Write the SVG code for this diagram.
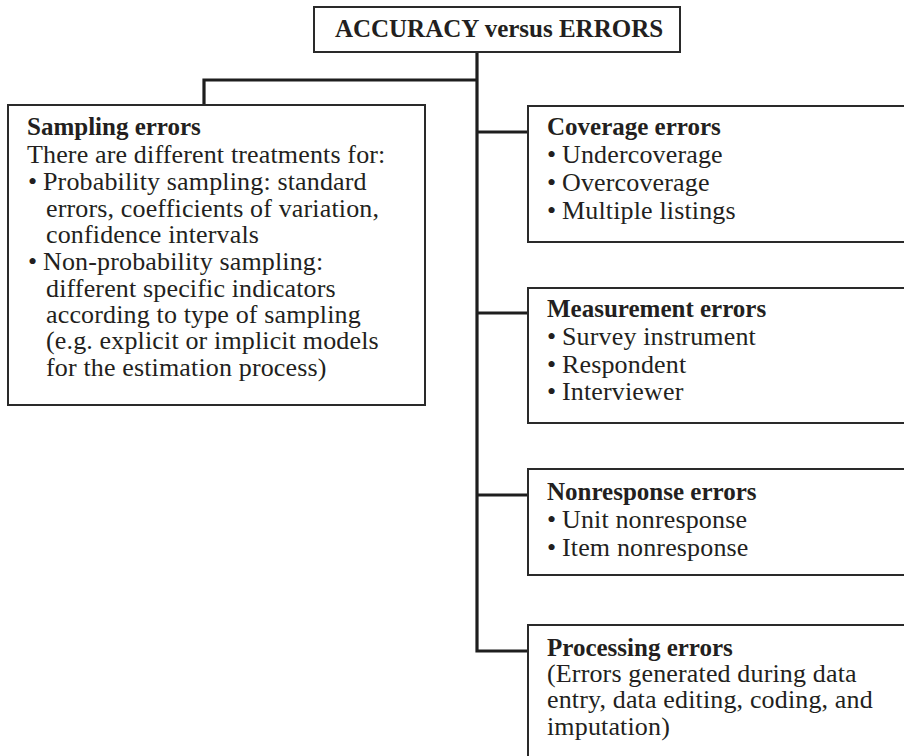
<svg xmlns="http://www.w3.org/2000/svg" width="904" height="756" viewBox="0 0 904 756">
<style>
.box{fill:#fff;stroke:#2a2a2a;stroke-width:2}
.conn{fill:none;stroke:#1e1e1e;stroke-width:3.2}
text{font-family:"Liberation Serif","Times New Roman",serif;font-size:26px;fill:#231f20;letter-spacing:0.15px}
.b{font-weight:bold;font-size:25px;letter-spacing:0}
</style>
<rect width="904" height="756" fill="#fff"/>
<g id="connectors">
<path class="conn" d="M477 52 V651 H528"/>
<path class="conn" d="M477 80 H204 V105"/>
<path class="conn" d="M477 132 H528"/>
<path class="conn" d="M477 313 H528"/>
<path class="conn" d="M477 495 H528"/>
</g>
<g id="title">
<rect class="box" x="314" y="7" width="366" height="45"/>
<text class="b" x="499" y="37" text-anchor="middle">ACCURACY versus ERRORS</text>
</g>
<g id="sampling">
<rect class="box" x="8" y="105" width="417" height="300"/>
<text class="b" x="27" y="135">Sampling errors</text>
<text x="27" y="163">There are different treatments for:</text>
<text y="190"><tspan x="28">•</tspan><tspan x="43">Probability sampling: standard</tspan></text>
<text x="46" y="217">errors, coefficients of variation,</text>
<text x="46" y="243">confidence intervals</text>
<text y="270"><tspan x="28">•</tspan><tspan x="43">Non-probability sampling:</tspan></text>
<text x="46" y="297">different specific indicators</text>
<text x="46" y="323">according to type of sampling</text>
<text x="46" y="349">(e.g. explicit or implicit models</text>
<text x="46" y="376">for the estimation process)</text>
</g>
<g id="coverage">
<rect class="box" x="528" y="106" width="400" height="136"/>
<text class="b" x="547" y="135">Coverage errors</text>
<text y="163"><tspan x="547">•</tspan><tspan x="562">Undercoverage</tspan></text>
<text y="191"><tspan x="547">•</tspan><tspan x="562">Overcoverage</tspan></text>
<text y="219"><tspan x="547">•</tspan><tspan x="562">Multiple listings</tspan></text>
</g>
<g id="measurement">
<rect class="box" x="528" y="288" width="400" height="135"/>
<text class="b" x="547" y="317">Measurement errors</text>
<text y="345"><tspan x="547">•</tspan><tspan x="562">Survey instrument</tspan></text>
<text y="373"><tspan x="547">•</tspan><tspan x="562">Respondent</tspan></text>
<text y="400"><tspan x="547">•</tspan><tspan x="562">Interviewer</tspan></text>
</g>
<g id="nonresponse">
<rect class="box" x="528" y="469" width="400" height="106"/>
<text class="b" x="547" y="500">Nonresponse errors</text>
<text y="528"><tspan x="547">•</tspan><tspan x="562">Unit nonresponse</tspan></text>
<text y="556"><tspan x="547">•</tspan><tspan x="562">Item nonresponse</tspan></text>
</g>
<g id="processing">
<rect class="box" x="528" y="625" width="400" height="200"/>
<text class="b" x="547" y="656">Processing errors</text>
<text x="547" y="682">(Errors generated during data</text>
<text x="547" y="708">entry, data editing, coding, and</text>
<text x="547" y="735">imputation)</text>
</g>
</svg>
